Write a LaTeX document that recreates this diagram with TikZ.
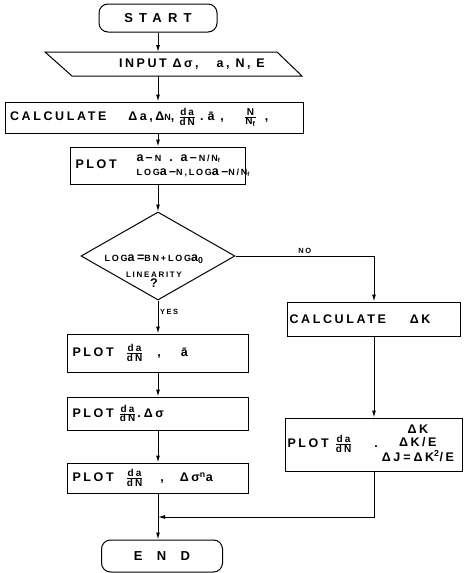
\documentclass[tikz,border=0pt]{standalone}
\usepackage{fontspec}
\setmainfont{Liberation Sans}
\newfontfamily\trackM[LetterSpace=20]{Liberation Sans}
\newfontfamily\trackB[LetterSpace=21]{Liberation Sans}
\newfontfamily\trackC[LetterSpace=48]{Liberation Sans}
\newfontfamily\trackD[LetterSpace=110]{Liberation Sans}
\usetikzlibrary{arrows.meta,positioning,calc,shapes.geometric}
\newcommand{\dfr}[2]{$\frac{\mbox{\fontsize{10}{10}\selectfont\bfseries #1}}{\mbox{\fontsize{10}{10}\selectfont\bfseries #2}}$}
\newcommand{\sm}[1]{{\fontsize{9}{10}\selectfont #1}}
\renewcommand{\arraystretch}{0.95}

\begin{document}
\begin{tikzpicture}[x=1pt, y=-1pt, >={Latex[length=7pt,width=4pt]},
  every node/.style={font=\trackM\bfseries\fontsize{12.5}{14}\selectfont},
  box/.style={draw, line width=1pt, inner xsep=8pt, inner ysep=0pt, align=left},
  term/.style={draw, line width=1pt, rounded corners=9pt, inner sep=0pt},
  flow/.style={->, line width=1pt},
  tag/.style={font=\trackM\bfseries\fontsize{7.5}{8}\selectfont, inner sep=1.5pt}]
\useasboundingbox (0,0) rectangle (464,573);

\node[term, minimum width=118, minimum height=28] (start) at (158,18) {\fontsize{13}{14}\selectfont\trackC START};

\node (input) at (192,64) {INPUT Δσ,\hspace{12pt} a, N, E};
\draw[line width=1pt] (45,52) -- (277,52) -- (302,76) -- (72,76) -- cycle;
\coordinate (intop) at (158,52);
\coordinate (inbot) at (158,76);

\node[box, minimum width=298, minimum height=31, text width=288, inner xsep=5pt] (calc) at (154,117.5)
  {{\trackB CALCULATE}\hspace{22pt}Δa,Δ\sm{N},\hspace{4pt}\dfr{da}{dN}\hspace{4pt}.\hspace{4pt}ā\hspace{6pt},\hspace{20pt}\dfr{\,N\,}{N\textsubscript{f}}\hspace{8pt},};

\node[box, minimum width=175, minimum height=37, text width=171, inner xsep=2pt] (plotn) at (158,165.5)
  {\hspace*{3pt}{\trackB PLOT}\hspace{20pt}\rlap{\begin{tabular}[c]{@{}l@{}}
   a\,–\,\sm{N}\hspace{8pt}.\hspace{8pt}a\,–\,\sm{N/N\textsubscript{f}}\\[1pt]
   \sm{LOG}a–\sm{N,LOG}a–\sm{N/N\textsubscript{f}}\end{tabular}}};

\node[diamond, draw, line width=1pt, minimum width=154, minimum height=88, inner sep=0pt] (lin) at (158,256) {};
\node[align=center, inner sep=0pt, font=\trackM\bfseries\fontsize{12.5}{13}\selectfont] (lintxt) at (154,271)
  {\sm{LOG}a=\sm{BN+LOG}a\textsubscript{0}\\[3pt]{\fontsize{8}{8}\selectfont\trackB LINEARITY}\\[-3pt]?};

\node[box, inner xsep=2pt, minimum width=173, minimum height=34, text width=169] (calck) at (374,319)
  {{\trackB CALCULATE}\hspace{24pt}ΔK};

\node[box, minimum width=181, minimum height=38, text width=171, inner xsep=5pt] (plota) at (158,353)
  {{\trackB PLOT}\hspace{12pt}\dfr{da}{dN}\hspace{14pt},\hspace{20pt}ā};
\node[box, minimum width=181, minimum height=33, text width=171, inner xsep=5pt] (plotb) at (158,413.5)
  {{\trackB PLOT}\hspace{5pt}\dfr{da}{dN}\hspace{1pt}.\hspace{3pt}Δσ};
\node[box, minimum width=181, minimum height=30, text width=171, inner xsep=5pt] (plotc) at (158,478)
  {{\trackB PLOT}\hspace{12pt}\dfr{da}{dN}\hspace{17pt},\hspace{16pt}Δσ\textsuperscript{n}a};

\node[box, inner xsep=2pt, minimum width=177, minimum height=53, text width=173] (plotr) at (374,444.5)
  {{\trackB PLOT}\hspace{6pt}\dfr{da}{dN}\hspace{22pt}.\hspace{4pt}\rlap{\begin{tabular}[c]{@{}c@{}}
   ΔK\\ΔK/E\\ΔJ\hspace{3pt}=\hspace{3pt}ΔK\textsuperscript{2}/E\end{tabular}}};

\node[term, minimum width=121, minimum height=32] (end) at (162,556) {\fontsize{13}{14}\selectfont\trackD END};
\coordinate (join) at (158,517);

\draw[flow] (start) -- (intop);
\draw[flow] (inbot) -- (inbot |- calc.north);
\draw[flow] (calc.south -| plotn) -- (plotn);
\draw[flow] (plotn) -- (lin);
\draw[flow] (lin.east) -| node[tag, pos=0.25, above] {NO} (calck);
\draw[flow] (lin) -- node[tag, pos=0.35, right] {YES} (plota);
\draw[flow] (plota) -- (plotb);
\draw[flow] (plotb) -- (plotc);
\draw[flow] (calck) -- (plotr);
\draw[flow] (plotc) -- (plotc |- end.north);
\draw[flow] (plotr) |- (join);
\end{tikzpicture}
\end{document}
